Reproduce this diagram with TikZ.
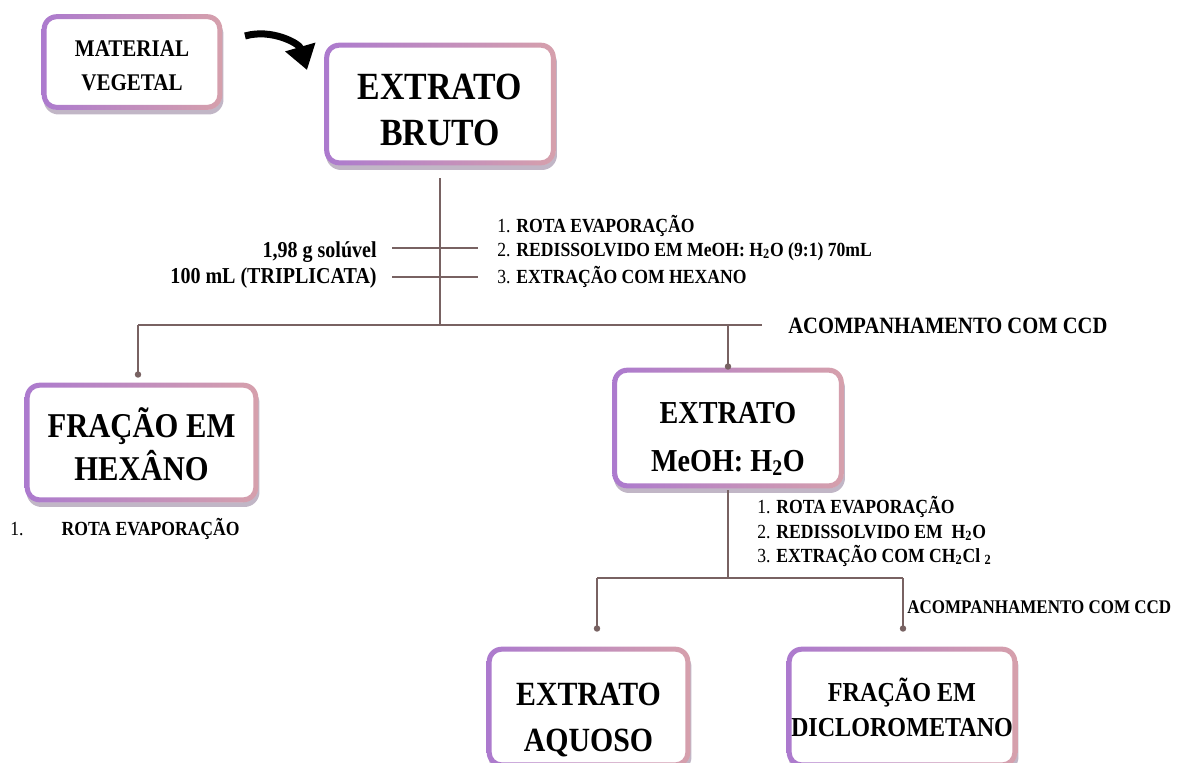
\documentclass[tikz,border=0pt]{standalone}
\usepackage{fontspec}
\setmainfont[FakeStretch=0.88]{Liberation Serif}
\usetikzlibrary{arrows.meta,shadows}

\definecolor{lilac}{RGB}{172,122,206}
\definecolor{rosy}{RGB}{214,160,172}
\definecolor{stem}{RGB}{120,98,98}
\definecolor{dusk}{RGB}{118,94,128}

\newcommand{\sz}[2]{\fontsize{#1}{#2}\selectfont}
\newcommand{\dn}[2]{\raisebox{-#1}[\height][\depth]{#2}}
\newcommand{\boxring}[1]{%
  \shade[left color=lilac, right color=rosy, even odd rule, rounded corners=0.3cm]
    (#1.south west) rectangle (#1.north east)
    [rounded corners=0.2cm] ([shift={(0.1cm,0.1cm)}]#1.south west) rectangle ([shift={(-0.1cm,-0.1cm)}]#1.north east);}

\begin{document}
\begin{tikzpicture}[>=stealth, x=0.02cm, y=-0.02cm]
	\tikzstyle{frame} = [rectangle, rounded corners=0.3cm, fill=white, inner sep=0pt, align=center, font=\bfseries, drop shadow={shadow xshift=0.03cm, shadow yshift=-0.1cm, fill=dusk, opacity=0.45}]
	\tikzstyle{wire} = [draw=stem, line width=0.8pt]
	\tikzstyle{drop} = [wire, -{Circle[length=3.6pt]}]
	\tikzstyle{steps} = [anchor=base west, inner sep=0pt, font=\bfseries\sz{11.4}{13}]
	\tikzstyle{note} = [inner sep=0pt, font=\bfseries\sz{12.95}{15}]

	\useasboundingbox (0,0) rectangle (1177,762);
	\clip (0,0) rectangle (1177,762);

	\path
	node[frame, minimum width=3.6cm, minimum height=1.9cm, font=\bfseries\sz{13.6}{19.3}] (mat) at (132,62) {\dn{2.3pt}{MATERIAL}\\\dn{2.3pt}{VEGETAL}}
	node[frame, minimum width=4.62cm, minimum height=2.44cm, font=\bfseries\sz{21.9}{26.7}] (bruto) at (440,104) {\dn{3.4pt}{EXTRATO}\\\dn{3.4pt}{BRUTO}}
	node[frame, minimum width=4.66cm, minimum height=2.38cm, font=\bfseries\sz{19.8}{24.5}] (hex) at (141.5,442.5) {\dn{1.1pt}{FRAÇÃO EM}\\\dn{1.1pt}{HEXÂNO}}
	node[frame, minimum width=4.62cm, minimum height=2.4cm, font=\bfseries\sz{18.2}{27}] (meoh) at (728,428) {\dn{6.3pt}{EXTRATO}\\\dn{6.3pt}{MeOH: H\textsubscript{2}O}}
	node[frame, minimum width=4.06cm, minimum height=2.4cm, font=\bfseries\sz{19.3}{26.7}] (aq) at (588.5,707) {\dn{7.4pt}{EXTRATO}\\\dn{7.4pt}{AQUOSO}}
	node[frame, minimum width=4.6cm, minimum height=2.4cm, font=\bfseries\sz{15.6}{20}] (dcm) at (902,707) {FRAÇÃO EM\\DICLOROMETANO}

	node[steps] (up1) at (497,232) {{\mdseries 1.} ROTA EVAPORAÇÃO}
	node[steps] (up2) at (497,256) {{\mdseries 2.} REDISSOLVIDO EM MeOH: H\textsubscript{2}O (9:1) 70mL}
	node[steps] (up3) at (497,283) {{\mdseries 3.} EXTRAÇÃO COM HEXANO}
	node[note, anchor=base east] (sol) at (377,257) {1,98 g solúvel}
	node[note, anchor=base east] (tri) at (377,283) {100 mL (TRIPLICATA)}
	node[note, anchor=base west, font=\bfseries\sz{13.3}{15}] (ccd1) at (788,333) {ACOMPANHAMENTO COM CCD}

	node[steps] (hx1) at (10,535) {{\mdseries 1.}\hspace{0.76cm}ROTA EVAPORAÇÃO}

	node[steps] (lo1) at (757,513) {{\mdseries 1.} ROTA EVAPORAÇÃO}
	node[steps] (lo2) at (757,538) {{\mdseries 2.} REDISSOLVIDO EM\ \ H\textsubscript{2}O}
	node[steps] (lo3) at (757,562) {{\mdseries 3.} EXTRAÇÃO COM CH\textsubscript{2}Cl \textsubscript{2}}
	node[note, anchor=base west, font=\bfseries\sz{11}{13}] (ccd2) at (907,613) {ACOMPANHAMENTO COM CCD};

	\foreach \b in {mat,bruto,hex,meoh,aq,dcm}
		\boxring{\b};

	% junctions
	\coordinate (bend1) at (245,36);
	\coordinate (bend2) at (307,70);
	\coordinate (cut1) at (440,325);
	\coordinate (bar1l) at (138,325);
	\coordinate (bar1r) at (762,325);
	\coordinate (x1l) at (392,248);
	\coordinate (x1r) at (478,248);
	\coordinate (x2l) at (392,277);
	\coordinate (x2r) at (478,277);
	\coordinate (cut2) at (728,578);
	\coordinate (bar2l) at (597,578);
	\coordinate (bar2r) at (903,578);

	\path[wire]
	(bend1) edge[draw=black, line width=0.14cm, bend left=45, -{Triangle[length=0.48cm, width=0.6cm]}] (bend2)
	([yshift=-0.26cm]bruto.south) edge (cut1)
	(bar1l) edge (bar1r)
	(x1l) edge (x1r)
	(x2l) edge (x2r)
	(bar1l) edge[drop] ([yshift=0.1cm]bar1l |- hex.north)
	(meoh.north |- bar1l) edge[drop] ([yshift=-0.04cm]meoh.north)
	([yshift=-0.04cm]meoh.south) edge (cut2)
	(bar2l) edge (bar2r)
	(bar2l) edge[drop] ([yshift=0.3cm]bar2l |- aq.north)
	(bar2r) edge[drop] ([yshift=0.3cm]bar2r |- dcm.north)
	;
\end{tikzpicture}
\end{document}
